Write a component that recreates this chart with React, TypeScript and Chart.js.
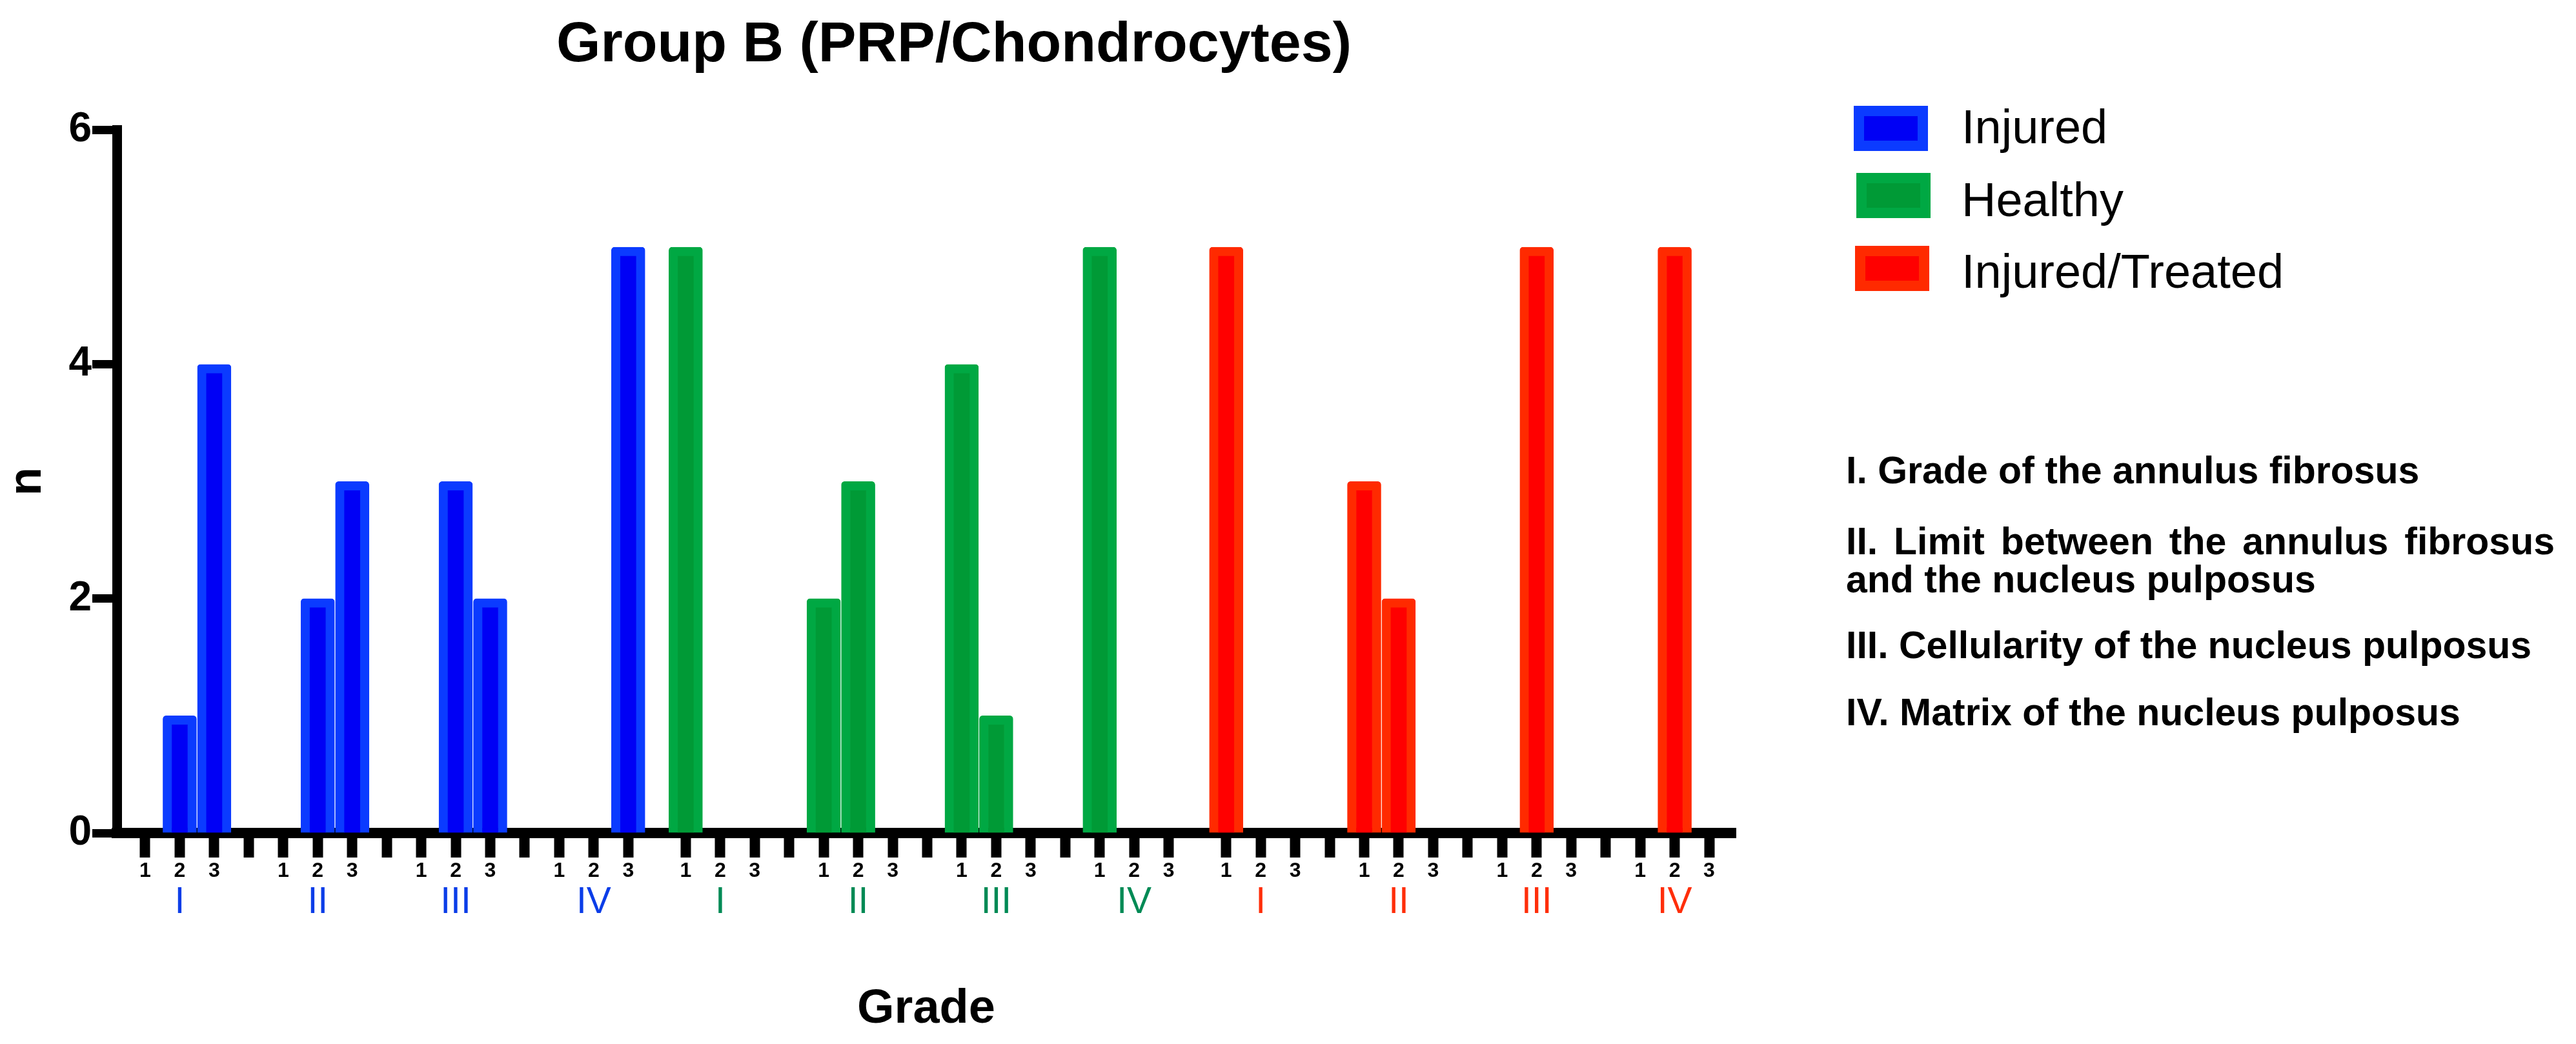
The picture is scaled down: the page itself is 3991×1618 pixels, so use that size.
import React, { useEffect, useRef } from 'react';
import { Chart, registerables } from 'chart.js';

Chart.register(...registerables);

// ---------------- data ----------------
const CHART_TITLE = 'Group B (PRP/Chondrocytes)';
const X_TITLE = 'Grade';
const Y_TITLE = 'n';
const TREATMENTS = ['Injured', 'Healthy', 'Injured/Treated'];
const PARAMETERS = ['I', 'II', 'III', 'IV'];
const SCORES = ['1', '2', '3'];
// counts per parameter (I..IV) x score (1,2,3)
const injuredCounts = [0, 1, 4, 0, 2, 3, 0, 3, 2, 0, 0, 5];
const healthyCounts = [5, 0, 0, 2, 3, 0, 4, 1, 0, 5, 0, 0];
const treatedCounts = [5, 0, 0, 3, 2, 0, 0, 5, 0, 0, 5, 0];
const Y_TICKS = [0, 2, 4, 6];
const NOTES = [
  'I. Grade of the annulus fibrosus',
  'II. Limit between the annulus fibrosus and the nucleus pulposus',
  'III. Cellularity of the nucleus pulposus',
  'IV. Matrix of the nucleus pulposus',
];

// ---------------- styles / layout ----------------
const FONT = '"Liberation Sans", Arial, Helvetica, sans-serif';
const FILL = ['#0000f5', '#009a36', '#ff0000'];
const EDGE = ['#0b3bff', '#00a843', '#ff2a00'];
const LABEL_COLORS = ['#0b3de8', '#008a55', '#ff2e0a'];

const GROUP_STEP = 4; // 3 scores + 1 empty slot
const BLOCK_STEP = 14 + 5 / 3; // distance between treatment blocks
const X_MIN = -0.823;
const X_MAX = 46.1;

const slotPos = (t: number, g: number, s: number) => t * BLOCK_STEP + g * GROUP_STEP + s;

const COUNTS = [injuredCounts, healthyCounts, treatedCounts];

type TickDef = { value: number; label: string; color?: string };

const xTicks: TickDef[] = [];
const paramTicks: TickDef[] = [];
TREATMENTS.forEach((_, t) => {
  PARAMETERS.forEach((p, g) => {
    SCORES.forEach((sc, s) => xTicks.push({ value: slotPos(t, g, s), label: sc }));
    if (g < PARAMETERS.length - 1) xTicks.push({ value: slotPos(t, g, 3), label: '' });
    paramTicks.push({ value: slotPos(t, g, 1), label: p, color: LABEL_COLORS[t] });
  });
});

export default function App() {
  const canvasRef = useRef<HTMLCanvasElement | null>(null);

  useEffect(() => {
    if (!canvasRef.current) return;
    const datasets = TREATMENTS.map((name, t) => ({
      label: name,
      data: COUNTS[t].map((v, i) => ({ x: slotPos(t, Math.floor(i / 3), i % 3), y: v })),
      backgroundColor: FILL[t],
      borderColor: EDGE[t],
      borderWidth: 14,
      borderSkipped: 'start' as const,
      borderRadius: 5,
      barThickness: 52,
      grouped: false,
      xAxisID: 'x',
      yAxisID: 'y',
    }));

    const chart = new Chart(canvasRef.current, {
      type: 'bar',
      data: { datasets: datasets as any },
      options: {
        animation: false,
        responsive: true,
        maintainAspectRatio: false,
        devicePixelRatio: 1,
        layout: { padding: 0 },
        plugins: {
          legend: { display: false },
          tooltip: { enabled: false },
          title: {
            display: true,
            text: CHART_TITLE,
            color: '#000',
            font: { family: FONT, size: 88, weight: 'bold', lineHeight: 1.2 },
            padding: { top: 18, bottom: 78 },
          },
        },
        scales: {
          x: {
            type: 'linear',
            position: 'bottom',
            offset: false,
            min: X_MIN,
            max: X_MAX,
            afterBuildTicks: (s: any) => {
              s.ticks = xTicks.map((tk) => ({ value: tk.value }));
            },
            afterFit: (s: any) => {
              s.height = 80;
            },
            grid: {
              display: true,
              offset: false,
              drawOnChartArea: false,
              drawTicks: true,
              tickLength: 38,
              tickWidth: 16,
              tickColor: '#000',
              color: '#000',
              lineWidth: 1,
            },
            border: { display: true, width: 16, color: '#000' },
            ticks: {
              autoSkip: false,
              maxRotation: 0,
              minRotation: 0,
              padding: 5,
              color: '#000',
              font: { family: FONT, size: 32, weight: 'bold', lineHeight: 1 },
              callback: (_v: any, i: number) => (xTicks[i] ? xTicks[i].label : ''),
            },
          },
          x2: {
            type: 'linear',
            position: 'bottom',
            offset: false,
            min: X_MIN,
            max: X_MAX,
            afterBuildTicks: (s: any) => {
              s.ticks = paramTicks.map((tk) => ({ value: tk.value }));
            },
            afterFit: (s: any) => {
              s.height = 247;
            },
            grid: { display: false, offset: false, drawTicks: false, drawOnChartArea: false },
            border: { display: false },
            ticks: {
              autoSkip: false,
              maxRotation: 0,
              minRotation: 0,
              padding: 0,
              font: { family: FONT, size: 57, weight: 'normal', lineHeight: 1 },
              color: (ctx: any) => (paramTicks[ctx.index] ? paramTicks[ctx.index].color : '#000'),
              callback: (_v: any, i: number) => (paramTicks[i] ? paramTicks[i].label : ''),
            },
            title: {
              display: true,
              text: X_TITLE,
              color: '#000',
              font: { family: FONT, size: 74, weight: 'bold', lineHeight: 1.2 },
              padding: { top: 0, bottom: 9 },
            },
          },
          y: {
            type: 'linear',
            position: 'left',
            offset: false,
            min: 0,
            max: 6,
            afterBuildTicks: (s: any) => {
              s.ticks = Y_TICKS.map((v) => ({ value: v }));
            },
            afterFit: (s: any) => {
              s.width = 181;
            },
            grid: {
              display: true,
              offset: false,
              drawOnChartArea: false,
              drawTicks: true,
              tickLength: 38,
              tickWidth: 13,
              tickColor: '#000',
              color: '#000',
              lineWidth: 1,
            },
            border: { display: true, width: 15, color: '#000' },
            ticks: {
              padding: 1,
              color: '#000',
              font: { family: FONT, size: 64, weight: 'bold' },
            },
            title: {
              display: true,
              text: Y_TITLE,
              color: '#000',
              font: { family: FONT, size: 72, weight: 'bold', lineHeight: 1.2 },
              padding: { top: 0, bottom: 0 },
            },
          },
          yRight: {
            type: 'linear',
            position: 'right',
            display: true,
            afterFit: (s: any) => {
              s.width = 267;
            },
            grid: { display: false, drawTicks: false, drawOnChartArea: false },
            border: { display: false },
            ticks: { display: false },
          },
        },
      } as any,
    });
    return () => chart.destroy();
  }, []);

  const legendRows = [
    { swTop: 164, swLeft: 2872, textCenter: 197 },
    { swTop: 268, swLeft: 2876, textCenter: 310 },
    { swTop: 381, swLeft: 2874, textCenter: 421 },
  ];

  const noteTops = [700, 810, 971, 1075];

  return (
    <div
      style={{
        position: 'absolute',
        left: 0,
        top: 0,
        width: 3991,
        height: 1618,
        background: '#fff',
        overflow: 'hidden',
        fontFamily: FONT,
      }}
    >
      <div style={{ position: 'absolute', left: 0, top: 0, width: 2956, height: 1618 }}>
        <canvas ref={canvasRef} />
      </div>
      {TREATMENTS.map((name, t) => (
        <React.Fragment key={name}>
          <div
            style={{
              position: 'absolute',
              left: legendRows[t].swLeft,
              top: legendRows[t].swTop,
              width: 115,
              height: 70,
              boxSizing: 'border-box',
              background: FILL[t],
              border: `16px solid ${EDGE[t]}`,
            }}
          />
          <div
            style={{
              position: 'absolute',
              left: 3039,
              top: legendRows[t].textCenter - 40,
              height: 80,
              lineHeight: '80px',
              fontSize: 74,
              color: '#000',
              whiteSpace: 'nowrap',
            }}
          >
            {name}
          </div>
        </React.Fragment>
      ))}
      {NOTES.map((note, i) => (
        <div
          key={i}
          style={{
            position: 'absolute',
            left: 2860,
            top: noteTops[i],
            width: 1098,
            fontSize: 59,
            fontWeight: 'bold',
            lineHeight: '59px',
            color: '#000',
            textAlign: 'justify',
          }}
        >
          {note}
        </div>
      ))}
    </div>
  );
}
